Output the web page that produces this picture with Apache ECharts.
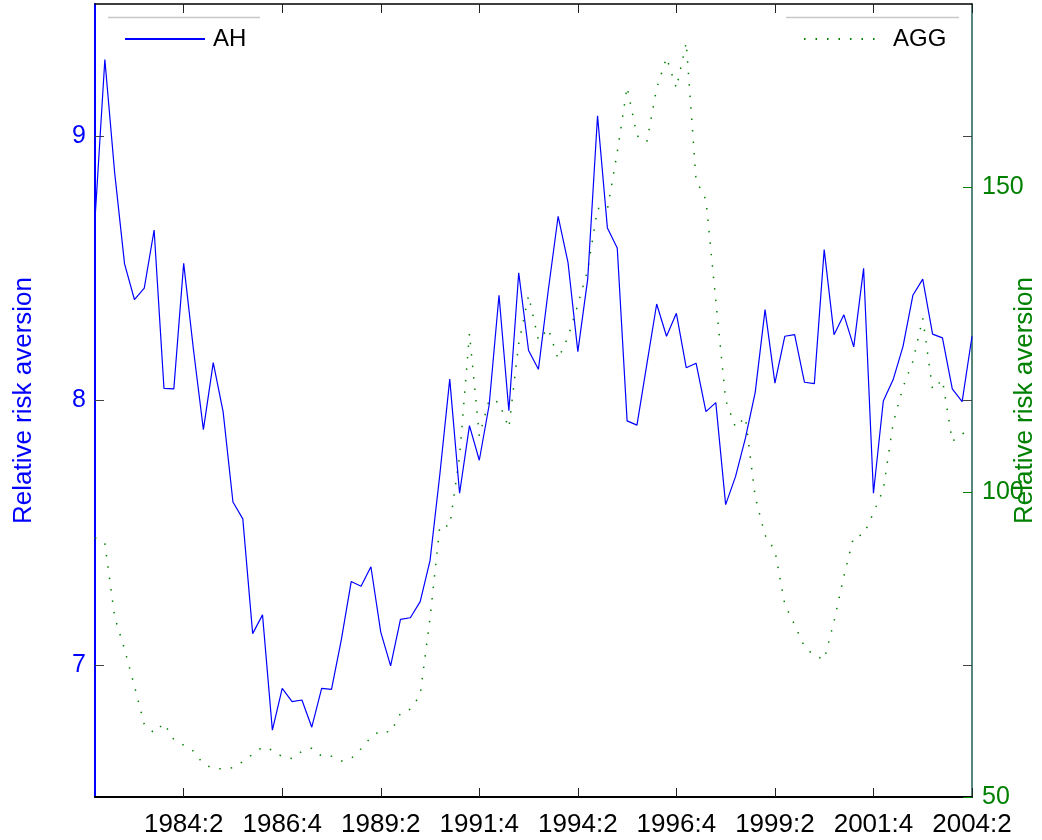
<!DOCTYPE html>
<html><head><meta charset="utf-8">
<script src="https://cdn.jsdelivr.net/npm/echarts@6/dist/echarts.min.js"></script>
<style>html,body{margin:0;padding:0;background:#fff}#c{width:1042px;height:840px}</style>
</head><body><div id="c"></div>
<script>
// quarterly categories 1982:1 .. 2004:2
const startYear = 1982, nQuarters = 90;
const quarters = [];
for (let k = 0; k < nQuarters; k++) { quarters.push((startYear + Math.floor(k / 4)) + ':' + (k % 4 + 1)); }
const tickLabels = ['1984:2','1986:4','1989:2','1991:4','1994:2','1996:4','1999:2','2001:4','2004:2'];

const ahValues = [
  8.685, 9.29, 8.86, 8.517, 8.382, 8.425, 8.645, 8.046, 8.044, 8.519,
  8.19, 7.89, 8.143, 7.958, 7.616, 7.552, 7.118, 7.189, 6.753, 6.911,
  6.861, 6.867, 6.764, 6.911, 6.907, 7.095, 7.315, 7.297, 7.371, 7.124,
  6.996, 7.172, 7.178, 7.239, 7.394, 7.722, 8.081, 7.649, 7.905, 7.774,
  7.983, 8.398, 7.961, 8.483, 8.189, 8.118, 8.417, 8.697, 8.523, 8.185,
  8.459, 9.077, 8.653, 8.577, 7.923, 7.907, 8.137, 8.365, 8.243, 8.330,
  8.124, 8.141, 7.958, 7.992, 7.606, 7.712, 7.857, 8.031, 8.344, 8.066,
  8.243, 8.249, 8.069, 8.064, 8.571, 8.249, 8.324, 8.203, 8.500, 7.649,
  7.998, 8.079, 8.205, 8.398, 8.459, 8.251, 8.237, 8.044, 7.996, 8.243
];
const aggValues = [
  92.5, 91.6, 79.5, 74.2, 68.2, 61.9, 60.5, 62.1, 59.4, 58.5,
  57.5, 55.4, 54.7, 54.6, 54.8, 55.8, 57.0, 58.2, 57.7, 56.6,
  56.3, 57.5, 58.0, 56.7, 56.7, 55.9, 56.3, 57.9, 59.8, 60.9,
  60.6, 63.7, 64.4, 66.7, 79.3, 94.5, 94.4, 105.9, 126.0, 109.2,
  115.1, 114.7, 110.5, 124.3, 132.2, 124.9, 126.8, 121.8, 125.4, 130.7,
  136.4, 146.5, 146.3, 155.7, 166.4, 158.4, 157.4, 166.2, 171.2, 166.2,
  173.7, 151.1, 147.9, 131.4, 115.1, 110.6, 112.3, 99.2, 92.9, 90.4,
  81.6, 78.2, 74.6, 73.2, 72.5, 78.8, 86.2, 92.7, 93.0, 96.6,
  100.4, 111.3, 117.2, 121.4, 128.5, 116.8, 118.4, 108.3, 109.5, 110.5
];
const leftTicks = [7, 8, 9];
const rightTicks = [50, 100, 150];
const axisName = 'Relative risk aversion';

const FONT = '"Liberation Sans", Arial, Helvetica, sans-serif';
const showTick = (idx, val) => tickLabels.indexOf(val) >= 0;

const chart = echarts.init(document.getElementById('c'), null, {renderer: 'canvas'});
chart.setOption({
  animation: false,
  backgroundColor: '#ffffff',
  textStyle: {fontFamily: FONT},
  grid: {left: 95, right: 70, top: 4, bottom: 43, containLabel: false, outerBoundsMode: 'none'},
  legend: [
    {data: ['AH'], left: 124, top: 27, padding: 0, itemWidth: 80, itemHeight: 14, itemGap: 0,
     itemStyle: {color: 'transparent', borderWidth: 0, opacity: 0},
     textStyle: {fontSize: 24, color: '#000', fontFamily: FONT, padding: [0, 0, 0, 3]}},
    {data: ['AGG'], left: 803, top: 27, padding: 0, itemWidth: 80, itemHeight: 14, itemGap: 0,
     itemStyle: {color: 'transparent', borderWidth: 0, opacity: 0},
     textStyle: {fontSize: 24, color: '#000', fontFamily: FONT, padding: [0, 0, 0, 4]}}
  ],
  xAxis: [
    {type: 'category', data: quarters, boundaryGap: false, position: 'bottom',
     axisLine: {show: true, onZero: false, lineStyle: {color: '#000', width: 2}},
     axisTick: {show: true, inside: true, length: 9, interval: showTick, lineStyle: {color: '#222', width: 1}},
     axisLabel: {show: true, interval: showTick, fontSize: 26, color: '#000', margin: 15, fontFamily: FONT},
     splitLine: {show: false}},
    {type: 'category', data: quarters, boundaryGap: false, position: 'top',
     axisLine: {show: true, onZero: false, lineStyle: {color: '#000', width: 1.5}},
     axisTick: {show: true, inside: true, length: 9, interval: showTick, lineStyle: {color: '#222', width: 1}},
     axisLabel: {show: false}, splitLine: {show: false}}
  ],
  yAxis: [
    {type: 'value', position: 'left', min: 6.5, max: 9.5,
     name: axisName, nameLocation: 'middle', nameGap: 58, nameRotate: 90, nameMoveOverlap: false,
     nameTextStyle: {color: '#0000ff', fontSize: 26, fontFamily: FONT},
     axisLine: {show: true, onZero: false, lineStyle: {color: '#0000ff', width: 2}},
     axisTick: {show: true, inside: true, length: 9, customValues: leftTicks, lineStyle: {color: '#444', width: 1}},
     axisLabel: {show: true, customValues: leftTicks, fontSize: 25, color: '#0000ff', margin: 9, fontFamily: FONT},
     splitLine: {show: false}},
    {type: 'value', position: 'right', min: 50, max: 180,
     name: axisName, nameLocation: 'middle', nameGap: 40, nameRotate: 90, nameMoveOverlap: false,
     nameTextStyle: {color: '#008000', fontSize: 26, fontFamily: FONT},
     axisLine: {show: true, onZero: false, lineStyle: {color: '#1f5e52', width: 1.5}},
     axisTick: {show: true, inside: true, length: 9, customValues: rightTicks, lineStyle: {color: '#008000', width: 1}},
     axisLabel: {show: true, customValues: rightTicks, fontSize: 25, color: '#008000', margin: 10, fontFamily: FONT},
     splitLine: {show: false}},
    {type: 'value', position: 'right', min: 6.5, max: 9.5,
     axisLine: {show: false},
     axisTick: {show: true, inside: true, length: 9, customValues: leftTicks, lineStyle: {color: '#444', width: 1}},
     axisLabel: {show: false}, splitLine: {show: false}}
  ],
  graphic: [
    {type: 'line', shape: {x1: 108, y1: 17.5, x2: 260, y2: 17.5}, style: {stroke: '#c8c8c8', lineWidth: 1.5}, z: 100},
    {type: 'line', shape: {x1: 786, y1: 17.5, x2: 959, y2: 17.5}, style: {stroke: '#c8c8c8', lineWidth: 1.5}, z: 100}
  ],
  series: [
    {name: 'AH', type: 'line', xAxisIndex: 0, yAxisIndex: 0, data: ahValues,
     showSymbol: false, symbol: 'none', lineStyle: {color: '#0000ff', width: 1.2}, itemStyle: {color: '#0000ff'}, z: 3},
    {name: 'AGG', type: 'line', xAxisIndex: 0, yAxisIndex: 1, data: aggValues,
     showSymbol: false, symbol: 'none', lineStyle: {color: '#008000', width: 1.5, type: [1.5, 10]}, itemStyle: {color: '#008000'}, z: 2}
  ]
});
</script></body></html>
